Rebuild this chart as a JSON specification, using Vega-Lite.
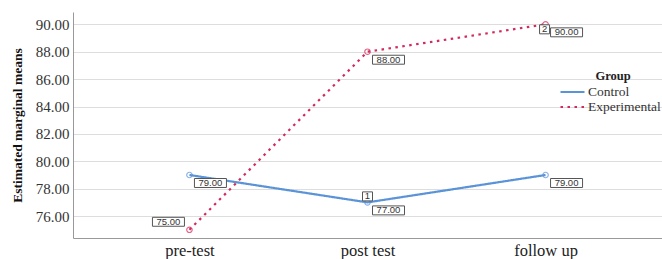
{
  "$schema": "https://vega.github.io/schema/vega-lite/v6.json",
  "autosize": "none",
  "width": 589,
  "height": 226,
  "padding": {"left": 73, "top": 12, "right": 0, "bottom": 21},
  "background": "white",
  "config": {
    "view": {"stroke": null},
    "font": "Liberation Serif"
  },
  "data": {
    "values": [
      {"test": "pre-test", "group": "Control", "mean": 79, "note": ""},
      {"test": "post test", "group": "Control", "mean": 77, "note": "1"},
      {"test": "follow up", "group": "Control", "mean": 79, "note": ""},
      {"test": "pre-test", "group": "Experimental", "mean": 75, "note": ""},
      {"test": "post test", "group": "Experimental", "mean": 88, "note": ""},
      {"test": "follow up", "group": "Experimental", "mean": 90, "note": "2"}
    ]
  },
  "encoding": {
    "x": {
      "field": "test", "type": "nominal", "sort": ["pre-test", "post test", "follow up"],
      "scale": {"type": "point", "padding": 0.654},
      "axis": {
        "title": null, "labelAngle": 0, "labelFont": "Liberation Serif", "labelFontSize": 16.5,
        "labelColor": "#222", "ticks": false, "labelPadding": 4, "domainColor": "#999", "grid": false
      }
    },
    "y": {
      "field": "mean", "type": "quantitative",
      "scale": {"domain": [74.4, 90.9], "nice": false, "zero": false},
      "axis": {
        "title": "Estimated marginal means", "titleFont": "Liberation Serif", "titleFontSize": 13.5,
        "titleFontWeight": "bold", "titleColor": "#111", "titlePadding": 11,
        "values": [76, 78, 80, 82, 84, 86, 88, 90], "format": ".2f",
        "labelFont": "Liberation Serif", "labelFontSize": 15, "labelColor": "#333",
        "ticks": false, "labelPadding": 4, "domainColor": "#999",
        "grid": true, "gridColor": "#ddd", "gridWidth": 1
      }
    }
  },
  "layer": [
    {
      "mark": {"type": "line", "strokeWidth": 2.2},
      "encoding": {
        "color": {
          "field": "group", "type": "nominal",
          "scale": {"domain": ["Control", "Experimental"], "range": ["#5a93d8", "#d4295c"]},
          "legend": {
            "title": "Group", "orient": "none", "legendX": 492, "legendY": 58,
            "titleFont": "Liberation Serif", "titleFontSize": 12.5, "titleFontWeight": "bold", "titleColor": "#222",
            "titleAnchor": "middle", "titlePadding": 2,
            "labelFont": "Liberation Serif", "labelFontSize": 13.5, "labelColor": "#333",
            "symbolType": "M-2,0H2", "symbolSize": 144, "symbolStrokeWidth": 2.2,
            "labelOffset": 8, "rowPadding": 1
          }
        },
        "strokeDash": {
          "field": "group", "type": "nominal",
          "scale": {"domain": ["Control", "Experimental"], "range": [[1, 0], [2.5, 4.5]]},
          "legend": null
        }
      }
    },
    {
      "mark": {"type": "point", "filled": false, "size": 30, "strokeWidth": 1.2},
      "encoding": {
        "color": {"field": "group", "type": "nominal", "legend": null}
      }
    },
    {
      "transform": [{"filter": "!(datum.group == 'Experimental' && datum.test == 'pre-test')"}],
      "layer": [
        {
          "mark": {"type": "point", "shape": "M-1,-0.28H1V0.28H-1Z", "size": 1024, "filled": true,
                   "fill": "white", "stroke": "#555", "strokeWidth": 1, "opacity": 1, "xOffset": 21, "yOffset": 8}
        },
        {
          "mark": {"type": "text", "font": "Liberation Sans", "fontSize": 9.5, "color": "#333", "dx": 21, "dy": 8, "baseline": "middle"},
          "encoding": {"text": {"field": "mean", "type": "quantitative", "format": ".2f"}}
        }
      ]
    },
    {
      "transform": [{"filter": "datum.group == 'Experimental' && datum.test == 'pre-test'"}],
      "layer": [
        {
          "mark": {"type": "point", "shape": "M-1,-0.28H1V0.28H-1Z", "size": 1024, "filled": true,
                   "fill": "white", "stroke": "#555", "strokeWidth": 1, "opacity": 1, "xOffset": -21, "yOffset": -8}
        },
        {
          "mark": {"type": "text", "font": "Liberation Sans", "fontSize": 9.5, "color": "#333", "dx": -21, "dy": -8, "baseline": "middle"},
          "encoding": {"text": {"field": "mean", "type": "quantitative", "format": ".2f"}}
        }
      ]
    },
    {
      "transform": [{"filter": "datum.note == '1'"}],
      "layer": [
        {
          "mark": {"type": "point", "shape": "M-1,-0.9H1V0.9H-1Z", "size": 100, "filled": true,
                   "fill": "white", "stroke": "#555", "strokeWidth": 1, "opacity": 1, "xOffset": 0, "yOffset": -6}
        },
        {
          "mark": {"type": "text", "font": "Liberation Sans", "fontSize": 9.5, "color": "#333", "dx": 0, "dy": -6, "baseline": "middle"},
          "encoding": {"text": {"field": "note"}}
        }
      ]
    },
    {
      "transform": [{"filter": "datum.note == '2'"}],
      "layer": [
        {
          "mark": {"type": "point", "shape": "M-1,-0.9H1V0.9H-1Z", "size": 100, "filled": true,
                   "fill": "white", "stroke": "#555", "strokeWidth": 1, "opacity": 1, "xOffset": -1, "yOffset": 5}
        },
        {
          "mark": {"type": "text", "font": "Liberation Sans", "fontSize": 9.5, "color": "#333", "dx": -1, "dy": 5, "baseline": "middle"},
          "encoding": {"text": {"field": "note"}}
        }
      ]
    }
  ]
}
